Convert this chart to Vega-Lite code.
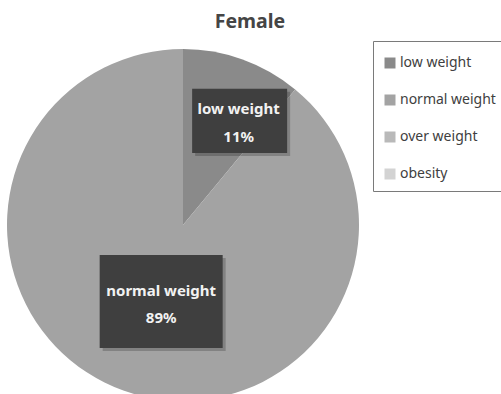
{
  "$schema": "https://vega.github.io/schema/vega-lite/v6.json",
  "autosize": {"type": "none"},
  "width": 352,
  "height": 352,
  "padding": {"left": 7, "top": 49, "right": 142, "bottom": 0},
  "background": "white",
  "config": {"view": {"stroke": null}},
  "title": {
    "text": "Female",
    "font": "Noto Sans",
    "fontSize": 19.5,
    "fontWeight": "bold",
    "color": "#454545",
    "anchor": "middle",
    "frame": "group",
    "baseline": "alphabetic",
    "dx": 67,
    "offset": -7
  },
  "data": {
    "values": [
      {"category": "low weight", "value": 11},
      {"category": "normal weight", "value": 89}
    ]
  },
  "layer": [
    {
      "mark": {"type": "arc", "strokeWidth": 0},
      "encoding": {
        "theta": {"field": "value", "type": "quantitative", "stack": true},
        "order": {"field": "category", "sort": "ascending"},
        "color": {
          "field": "category",
          "type": "nominal",
          "scale": {
            "domain": ["low weight", "normal weight", "over weight", "obesity"],
            "range": ["#8a8a8a", "#a3a3a3", "#b9b9b9", "#d3d3d3"]
          },
          "legend": {
            "orient": "none",
            "legendX": 366,
            "legendY": -8,
            "title": " ",
            "titleFontSize": 3,
            "titlePadding": 2,
            "symbolType": "square",
            "symbolSize": 121,
            "symbolStrokeWidth": 0,
            "labelFont": "Noto Sans",
            "labelFontSize": 14,
            "labelColor": "#404040",
            "labelOffset": 3,
            "rowPadding": 23,
            "padding": 10,
            "strokeColor": "#7a7a7a",
            "fillColor": "white"
          }
        }
      }
    },
    {
      "transform": [
        {"stack": "value", "groupby": [], "sort": [{"field": "category", "order": "ascending"}], "offset": "normalize", "as": ["v0", "v1"]},
        {"calculate": "PI * (datum.v0 + datum.v1)", "as": "mid"},
        {"calculate": "sin(datum.mid)", "as": "ux"},
        {"calculate": "cos(datum.mid)", "as": "uy"},
        {"calculate": "[datum.category, datum.value + '%']", "as": "label"}
      ],
      "layer": [
        {
          "transform": [
            {"filter": "datum.category === 'low weight'"},
            {"calculate": "0.665 * datum.ux", "as": "lx"},
            {"calculate": "0.665 * datum.uy", "as": "ly"}
          ],
          "encoding": {
            "x": {"field": "lx", "type": "quantitative", "scale": {"domain": [-1, 1], "nice": false, "zero": false}, "axis": null},
            "y": {"field": "ly", "type": "quantitative", "scale": {"domain": [-1, 1], "nice": false, "zero": false}, "axis": null}
          },
          "layer": [
            {"mark": {"type": "point", "shape": "M-1,-0.674H1V0.674H-1Z", "size": 9025, "filled": true, "color": "#000000", "opacity": 0.2, "strokeWidth": 0, "xOffset": 20, "yOffset": 9}},
            {"mark": {"type": "point", "shape": "M-1,-0.674H1V0.674H-1Z", "size": 9025, "filled": true, "color": "#3f3f3f", "opacity": 1, "strokeWidth": 0, "xOffset": 17, "yOffset": 6}},
            {
              "mark": {"type": "text", "font": "Noto Sans", "fontWeight": "bold", "fontSize": 15, "color": "#f2f2f2", "lineHeight": 28, "align": "center", "baseline": "middle", "xOffset": 16, "yOffset": -6},
              "encoding": {"text": {"field": "label", "type": "nominal"}}
            }
          ]
        },
        {
          "transform": [
            {"filter": "datum.category === 'normal weight'"},
            {"calculate": "0.45 * datum.ux", "as": "lx"},
            {"calculate": "0.45 * datum.uy", "as": "ly"}
          ],
          "encoding": {
            "x": {"field": "lx", "type": "quantitative", "scale": {"domain": [-1, 1], "nice": false, "zero": false}, "axis": null},
            "y": {"field": "ly", "type": "quantitative", "scale": {"domain": [-1, 1], "nice": false, "zero": false}, "axis": null}
          },
          "layer": [
            {"mark": {"type": "point", "shape": "M-1,-0.756H1V0.756H-1Z", "size": 15129, "filled": true, "color": "#000000", "opacity": 0.2, "strokeWidth": 0, "xOffset": 8, "yOffset": 5}},
            {"mark": {"type": "point", "shape": "M-1,-0.756H1V0.756H-1Z", "size": 15129, "filled": true, "color": "#3f3f3f", "opacity": 1, "strokeWidth": 0, "xOffset": 5, "yOffset": 2}},
            {
              "mark": {"type": "text", "font": "Noto Sans", "fontWeight": "bold", "fontSize": 15, "color": "#f2f2f2", "lineHeight": 27, "align": "center", "baseline": "middle", "xOffset": 5, "yOffset": -9},
              "encoding": {"text": {"field": "label", "type": "nominal"}}
            }
          ]
        }
      ]
    }
  ]
}
